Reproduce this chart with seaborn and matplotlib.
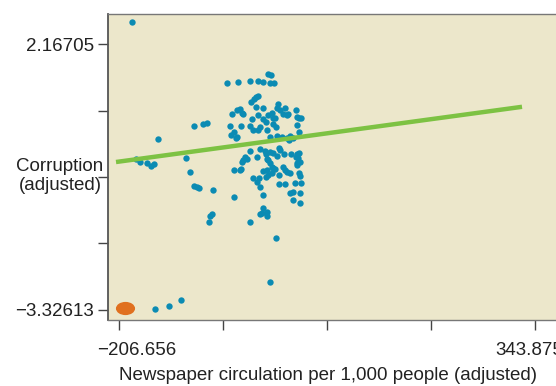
import matplotlib
matplotlib.use("Agg")
import matplotlib.pyplot as plt
import matplotlib.path as mpath
import matplotlib.transforms as mtrans
import seaborn as sns
import pandas as pd

# ---- data ----
news_x = [-189.4, -155.0, -184.2, -178.9, -169.6, -164.3, -160.3, -118.0, -107.4, -95.5,
          -90.2, -112.7, -107.4, -103.4, -100.8, -82.3, -54.5, -63.7, -49.2, -33.3,
          -22.7, -16.1, -9.5, -5.5, -6.8, -1.5, -25.4, -28.0, -32.0, -22.7,
          -50.5, -46.5, -42.6, -57.1, -25.4, -16.1, -30.6, -33.3, -29.3, -45.2,
          -59.8, -58.4, -54.5, -50.5, -20.1, -16.1, -12.1, -9.5, -4.2, -2.9,
          -10.8, -2.9, 1.1, 2.4, 3.8, 6.4, 10.4, 13.0, 17.0, 27.6,
          28.9, 31.6, 34.2, 28.9, 31.6, -6.8, 2.4, 9.1, 15.7, 19.6,
          18.3, -33.3, -20.1, -12.1, -6.8, -2.9, 6.4, 2.4, 11.7, 21.0,
          28.9, 31.6, 27.6, -39.9, -37.3, -43.9, -24.0, -10.8, -6.8, -4.2,
          -2.9, 28.9, 32.9, 28.9, 10.4, 13.0, 15.7, 19.6, -16.1, -10.8,
          -0.2, -4.2, -9.5, -12.1, -54.5, -46.5, 5.1, 31.6, 32.9, -29.3,
          -21.4, -24.0, -20.1, 5.1, 13.0, 26.3, 34.2, 19.6, 23.6, 32.9,
          -16.1, 23.6, 32.9, -20.1, -17.4, -10.8, -10.8, -16.1, -83.6, -86.2,
          -87.6, -33.3, 1.1, -6.8, -124.6, -140.5, -159.0,
          -43.9, -22.7, 15.7, -22.7, -0.2, -51.8, 23.6, -13.4, 5.1, -9.5,
          -45.2, 30.2, -42.6]
corruption_y = [2.62, 0.20, -0.21, -0.27, -0.29, -0.35, -0.31, -0.19, 0.47, 0.51,
                0.54, -0.48, -0.77, -0.79, -0.81, -0.85, -0.99, 1.36, 1.38, 1.40,
                1.40, 1.38, 1.55, 1.53, 1.36, 1.36, 1.07, 1.03, 0.97, 1.09,
                0.80, 0.82, 0.72, 0.72, 0.87, 0.85, 0.62, 0.47, 0.39, 0.47,
                0.47, 0.29, 0.35, 0.25, 0.45, 0.62, 0.56, 0.70, 0.74, 0.64,
                0.39, 0.51, 0.45, 0.85, 0.93, 0.80, 0.72, 0.85, 0.72, 0.80,
                0.66, 0.64, 0.64, 0.49, 0.35, 0.25, 0.27, 0.25, 0.23, 0.27,
                0.18, -0.04, 0.00, -0.10, -0.06, -0.08, -0.02, -0.15, -0.10, -0.10,
                -0.10, -0.08, -0.17, -0.17, -0.21, -0.27, -0.17, -0.21, -0.29, -0.37,
                -0.39, -0.29, -0.27, -0.33, -0.37, -0.44, -0.48, -0.50, -0.46, -0.44,
                -0.41, -0.50, -0.54, -0.58, -0.44, -0.44, -0.54, -0.50, -0.56, -0.60,
                -0.60, -0.68, -0.79, -0.72, -0.72, -0.70, -0.70, -0.91, -0.89, -0.91,
                -0.95, -1.05, -1.12, -1.34, -1.32, -1.30, -1.39, -1.22, -1.34, -1.39,
                -1.51, -1.51, -1.84, -2.75, -3.12, -3.24, -3.31,
                0.74, 0.70, 0.70, 0.39, 0.64, 0.23, 0.23, -0.04, 0.02, -0.23,
                -0.41, -0.19, -0.23]

highlight_x = [-198.7]
highlight_y = [-3.29]

fit_x = [-210.6, 326.7]
fit_y = [-0.27, 0.87]

x_ticks = [-206.656, -68.9928, 68.6105, 206.2423, 343.875]
x_tick_labels = ["\u2212206.656", "", "", "", "343.875"]
y_ticks = [2.16705, 0.79375, -0.57954, -1.95284, -3.32613]
y_tick_labels = ["2.16705", "", "", "", "\u22123.32613"]

x_title = "Newspaper circulation per 1,000 people (adjusted)"
y_title = "Corruption\n(adjusted)"

# ---- styling ----
sns.set_style("white")
plt.rcParams["font.family"] = ["Liberation Sans", "DejaVu Sans"]

BG = "#ECE7CB"
DOT = "#0B8BB3"
LINE = "#7DC243"
ORANGE = "#E0701F"
TXT = "#222222"
FS = 13.5

fig = plt.figure(figsize=(5.56, 3.86), dpi=100)
fig.patch.set_facecolor("white")
ax = fig.add_axes([108 / 556, 66 / 386, 462 / 556, 306 / 386])
ax.set_facecolor(BG)

pts = pd.DataFrame({"x": news_x, "y": corruption_y})
sns.scatterplot(data=pts, x="x", y="y", ax=ax, color=DOT, s=21,
                linewidth=0, zorder=3, legend=False)

fit = pd.DataFrame({"x": fit_x, "y": fit_y})
sns.lineplot(data=fit, x="x", y="y", ax=ax, color=LINE, linewidth=3.2,
             zorder=4, legend=False, solid_capstyle="butt")

ell = mpath.Path.unit_circle().transformed(mtrans.Affine2D().scale(1.45, 1.0))
hl = pd.DataFrame({"x": highlight_x, "y": highlight_y})
sns.scatterplot(data=hl, x="x", y="y", ax=ax, color=ORANGE, marker=ell,
                s=190, linewidth=0, zorder=5, legend=False)

ax.set_xlim(-221.2, 390.2)
ax.set_ylim(-3.533, 2.787)

ax.set_xticks(x_ticks)
ax.set_xticklabels(x_tick_labels)
ax.set_yticks(y_ticks)
ax.set_yticklabels(y_tick_labels)
ax.tick_params(axis="both", direction="out", length=7, width=1,
               color="#444444", labelcolor=TXT, labelsize=FS,
               bottom=True, left=True)
ax.tick_params(axis="x", pad=9)
ax.tick_params(axis="y", pad=3)

# nudge the x tick labels the way the reference places them
xl = ax.get_xticklabels()
xl[0].set_transform(xl[0].get_transform() +
                    mtrans.ScaledTranslation(18 / 100, 0, fig.dpi_scale_trans))
xl[-1].set_transform(xl[-1].get_transform() +
                     mtrans.ScaledTranslation(-6 / 100, 0, fig.dpi_scale_trans))

ax.spines["left"].set_color("#555555")
ax.spines["left"].set_linewidth(1.3)
for s in ["bottom", "top"]:
    ax.spines[s].set_color("#777777")
    ax.spines[s].set_linewidth(1.0)
ax.spines["right"].set_visible(False)

ax.set_xlabel(x_title, fontsize=FS, color=TXT, va="center")
ax.xaxis.set_label_coords((328 - 108) / 462, (320 - 375) / 306)
ax.set_ylabel(y_title, fontsize=FS, color=TXT, rotation=0,
              ha="center", va="center", linespacing=1.15)
ax.yaxis.set_label_coords((60 - 108) / 462, (320 - 176) / 306)

fig.savefig("out.png", dpi=100, facecolor="white")
